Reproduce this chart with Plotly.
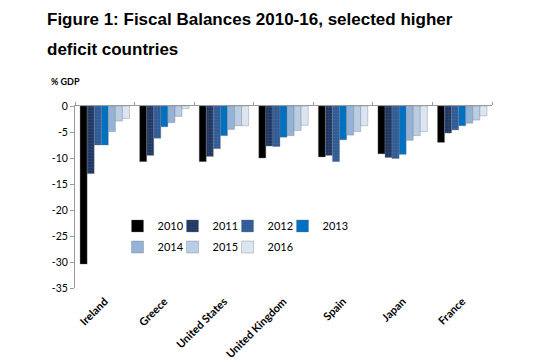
import plotly.graph_objects as go

countries = ["Ireland", "Greece", "United States", "United Kingdom", "Spain", "Japan", "France"]
years = ["2010", "2011", "2012", "2013", "2014", "2015", "2016"]

v2010 = [-30.4, -10.7, -10.7, -10.0, -9.8, -9.2, -7.0]
v2011 = [-13.0, -9.5, -9.7, -7.7, -9.5, -9.9, -5.2]
v2012 = [-7.5, -6.2, -8.2, -7.8, -10.7, -10.1, -4.6]
v2013 = [-7.5, -4.0, -5.7, -6.0, -6.5, -9.3, -3.8]
v2014 = [-4.9, -3.2, -4.5, -5.7, -5.6, -6.6, -3.3]
v2015 = [-2.9, -2.0, -3.8, -4.7, -4.9, -5.7, -2.7]
v2016 = [-2.4, -0.5, -3.8, -3.7, -3.8, -4.9, -1.9]

series = [v2010, v2011, v2012, v2013, v2014, v2015, v2016]
colors = ["#000000", "#203864", "#2f5b98", "#0070c0", "#95b3d7", "#b9cde5", "#dce6f2"]
patterned = [False, True, True, False, False, False, False]

y_ticks = [0, -5, -10, -15, -20, -25, -30, -35]

FONT = "Lato"

fig = go.Figure()
for i, (yr, vals) in enumerate(zip(years, series)):
    marker = dict(color=colors[i], line=dict(width=0.6, color="rgba(120,120,120,0.6)"))
    if patterned[i]:
        marker["pattern"] = dict(shape=".", size=3, solidity=0.2,
                                 fgcolor="rgba(255,255,255,0.2)", fillmode="overlay")
    fig.add_trace(go.Bar(
        x=countries, y=vals, name=yr, marker=marker,
        legend="legend" if i < 4 else "legend2",
    ))

# invisible spacer entries so the last legend label in each row is not clipped
for lg in ["legend", "legend2"]:
    fig.add_trace(go.Scatter(x=[None], y=[None], mode="markers", name=" ",
                             marker=dict(color="rgba(0,0,0,0)"), legend=lg,
                             hoverinfo="skip"))

fig.update_layout(
    width=550, height=364,
    margin=dict(l=75, r=58, t=106, b=76),
    paper_bgcolor="white", plot_bgcolor="white",
    barmode="group", bargap=0.17, bargroupgap=0,
    font=dict(family=FONT, size=10.5, color="black"),
    showlegend=True,
    legend=dict(orientation="h", x=0.102, y=0.341, xanchor="left", yanchor="middle",
                entrywidth=10, entrywidthmode="pixels", font=dict(family=FONT, size=11),
                bgcolor="rgba(0,0,0,0)", tracegroupgap=0),
    legend2=dict(orientation="h", x=0.102, y=0.225, xanchor="left", yanchor="middle",
                 entrywidth=10, entrywidthmode="pixels", font=dict(family=FONT, size=11),
                 bgcolor="rgba(0,0,0,0)", tracegroupgap=0),
    xaxis=dict(type="category", showgrid=False, showline=False, ticks="",
               tickangle=-45, ticklabelstandoff=4, automargin=False,
               tickfont=dict(family=FONT, size=11, color="black", weight="bold")),
    xaxis2=dict(overlaying="x", side="top", type="linear", range=[-0.5, 6.5],
                tickvals=[-0.5, 0.5, 1.5, 2.5, 3.5, 4.5, 5.5, 6.5],
                ticks="outside", ticklen=3, tickcolor="#9a9a9a", showticklabels=False,
                showgrid=False, showline=True, linecolor="#9a9a9a", linewidth=1,
                zeroline=False, automargin=False),
    yaxis=dict(range=[-35, 0], tickvals=y_ticks, ticktext=[str(t) for t in y_ticks],
               showgrid=False, zeroline=False, showline=True, linecolor="#9a9a9a",
               linewidth=1, ticks="outside", ticklen=4, tickcolor="#9a9a9a",
               automargin=False,
               tickfont=dict(family=FONT, size=10.5, color="black")),
    annotations=[
        dict(text="<b>Figure 1: Fiscal Balances 2010-16, selected higher</b>",
             xref="paper", yref="paper", x=-0.073, y=1.478, xanchor="left", yanchor="middle",
             showarrow=False, font=dict(family="Liberation Sans", size=17, color="black")),
        dict(text="<b>deficit countries</b>",
             xref="paper", yref="paper", x=-0.073, y=1.313, xanchor="left", yanchor="middle",
             showarrow=False, font=dict(family="Liberation Sans", size=17, color="black")),
        dict(text="<b>% GDP</b>",
             xref="paper", yref="paper", x=-0.063, y=1.132, xanchor="left", yanchor="middle",
             showarrow=False, font=dict(family=FONT, size=9, color="black")),
    ],
)
# invisible trace to activate xaxis2
fig.add_trace(go.Scatter(x=[], y=[], xaxis="x2", showlegend=False, hoverinfo="skip"))

fig.write_html("out.html", config={"displayModeBar": False},
               post_script="document.body.style.margin='0';")
